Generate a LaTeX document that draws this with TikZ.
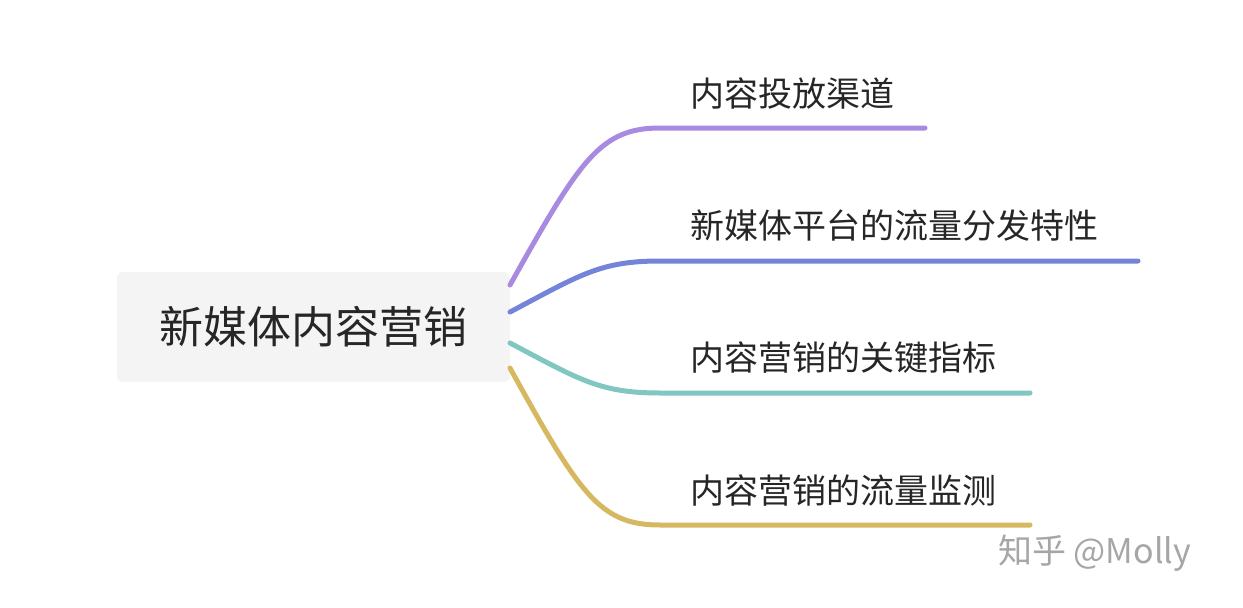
\documentclass[tikz,border=0pt]{standalone}
\usepackage{fontspec}
\setmainfont{Noto Sans CJK SC}
\definecolor{cA}{HTML}{A88BE0}
\definecolor{cB}{HTML}{7484D9}
\definecolor{cC}{HTML}{80C6C1}
\definecolor{cD}{HTML}{D6B861}
\definecolor{rootbg}{HTML}{F4F4F4}
\begin{document}
\begin{tikzpicture}[x=1pt,y=-1pt,
  br/.style={line width=5pt,line cap=round},
  lab/.style={anchor=west,inner sep=0pt,font=\fontsize{34}{40}\selectfont,text=black!85}]
\useasboundingbox (0,0) rectangle (1243,608);
\node[fill=rootbg,rounded corners=6pt,minimum width=393pt,minimum height=110pt,font=\fontsize{44}{50}\selectfont,text=black!85] (root) at (313.5,327) {新媒体内容营销};
\coordinate (sA) at (510,285); \coordinate (eA) at (925,128);
\coordinate (sB) at (510,312); \coordinate (eB) at (1138,261);
\coordinate (sC) at (510,343); \coordinate (eC) at (1030,393);
\coordinate (sD) at (510,368); \coordinate (eD) at (1030,525);
\draw[br,cA] (sA) .. controls (580,160) and (600,128) .. (660,128) -- (eA);
\draw[br,cB] (sB) .. controls (580,275) and (600,261) .. (660,261) -- (eB);
\draw[br,cC] (sC) .. controls (580,380) and (600,393) .. (660,393) -- (eC);
\draw[br,cD] (sD) .. controls (580,495) and (600,525) .. (660,525) -- (eD);
\node[lab] (tA) at (690,93) {内容投放渠道};
\node[lab] (tB) at (690,226) {新媒体平台的流量分发特性};
\node[lab] (tC) at (690,358) {内容营销的关键指标};
\node[lab] (tD) at (690,491) {内容营销的流量监测};
\node[anchor=west,inner sep=0pt,font=\fontsize{34}{40}\selectfont,text=black!35] (wm) at (998,553) {知乎 @Molly};
\end{tikzpicture}
\end{document}
